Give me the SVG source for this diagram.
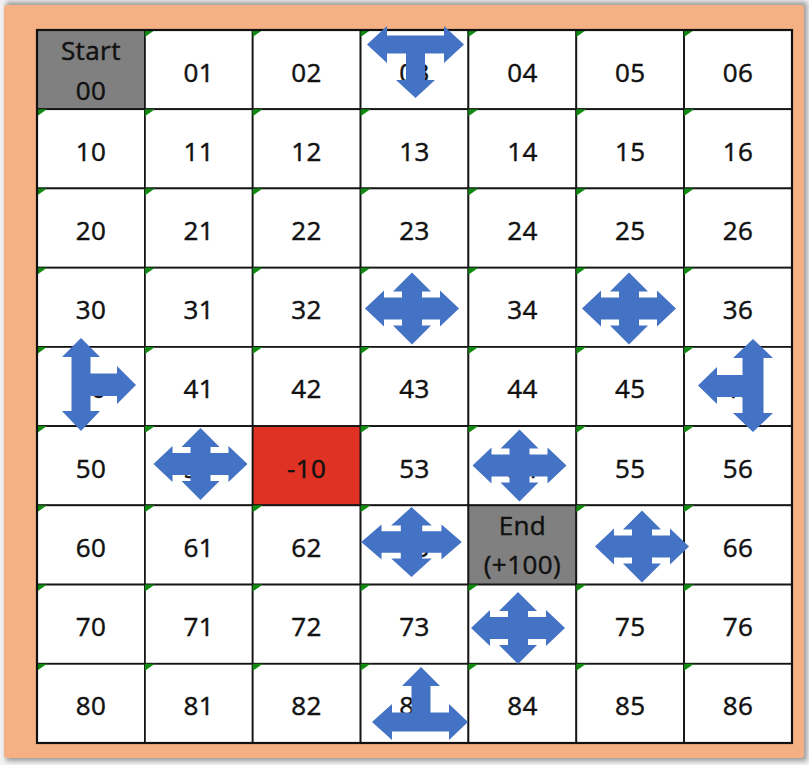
<svg xmlns="http://www.w3.org/2000/svg" width="809" height="765" viewBox="0 0 809 765">
<defs>
<style>
.cell{fill:#ffffff;stroke:#151515;stroke-width:1.8}
.gray{fill:#808080;stroke:#151515;stroke-width:1.8}
.red{fill:#e03224;stroke:#151515;stroke-width:1.8}
.tri{fill:#118a11}
.t{font-family:"Open Sans","Noto Sans","DejaVu Sans",sans-serif;font-size:26px;fill:#111111;stroke:#111111;stroke-width:0.45;text-anchor:middle;letter-spacing:0.4px}
.arrow{fill:#4472c4}
</style>
<filter id="sh" x="-5%" y="-5%" width="110%" height="110%"><feGaussianBlur stdDeviation="2.5"/></filter>
<path id="quad" d="M0,-36 L19,-17 L10,-17 L10,-11 L28,-11 L28,-18 L47,0 L28,18 L28,11 L10,11 L10,17 L19,17 L0,36 L-19,17 L-10,17 L-10,11 L-28,11 L-28,18 L-47,0 L-28,-18 L-28,-11 L-10,-11 L-10,-17 L-19,-17 Z"/>
</defs>
<rect x="0" y="0" width="809" height="765" fill="#f2f2f2"/>
<rect x="6" y="2" width="801" height="759" fill="#9a9a9a" filter="url(#sh)"/>
<rect x="4" y="5" width="800" height="753" rx="3" fill="#f5b183"/>
<rect x="37" y="30" width="755" height="713" fill="#ffffff"/>

<g id="row0">
<g id="c00"><rect class="gray" x="37" y="30" width="107.9" height="79.2"/><text class="t" x="90.9" y="60">Start</text><text class="t" x="90.9" y="100">00</text></g>
<g id="c01"><rect class="cell" x="144.9" y="30" width="107.8" height="79.2"/><path class="tri" d="M144.9,30h10l-10,7z"/><text class="t" x="198.8" y="81.5">01</text></g>
<g id="c02"><rect class="cell" x="252.7" y="30" width="107.9" height="79.2"/><path class="tri" d="M252.7,30h10l-10,7z"/><text class="t" x="306.6" y="81.5">02</text></g>
<g id="c03"><rect class="cell" x="360.6" y="30" width="107.8" height="79.2"/><path class="tri" d="M360.6,30h10l-10,7z"/><text class="t" x="414.5" y="81.5">03</text></g>
<g id="c04"><rect class="cell" x="468.4" y="30" width="107.9" height="79.2"/><path class="tri" d="M468.4,30h10l-10,7z"/><text class="t" x="522.4" y="81.5">04</text></g>
<g id="c05"><rect class="cell" x="576.3" y="30" width="107.8" height="79.2"/><path class="tri" d="M576.3,30h10l-10,7z"/><text class="t" x="630.2" y="81.5">05</text></g>
<g id="c06"><rect class="cell" x="684.1" y="30" width="107.9" height="79.2"/><path class="tri" d="M684.1,30h10l-10,7z"/><text class="t" x="738.1" y="81.5">06</text></g>
</g>

<g id="row1">
<g id="c10"><rect class="cell" x="37" y="109.2" width="107.9" height="79.2"/><path class="tri" d="M37,109.2h10l-10,7z"/><text class="t" x="90.9" y="160.7">10</text></g>
<g id="c11"><rect class="cell" x="144.9" y="109.2" width="107.8" height="79.2"/><path class="tri" d="M144.9,109.2h10l-10,7z"/><text class="t" x="198.8" y="160.7">11</text></g>
<g id="c12"><rect class="cell" x="252.7" y="109.2" width="107.9" height="79.2"/><path class="tri" d="M252.7,109.2h10l-10,7z"/><text class="t" x="306.6" y="160.7">12</text></g>
<g id="c13"><rect class="cell" x="360.6" y="109.2" width="107.8" height="79.2"/><path class="tri" d="M360.6,109.2h10l-10,7z"/><text class="t" x="414.5" y="160.7">13</text></g>
<g id="c14"><rect class="cell" x="468.4" y="109.2" width="107.9" height="79.2"/><path class="tri" d="M468.4,109.2h10l-10,7z"/><text class="t" x="522.4" y="160.7">14</text></g>
<g id="c15"><rect class="cell" x="576.3" y="109.2" width="107.8" height="79.2"/><path class="tri" d="M576.3,109.2h10l-10,7z"/><text class="t" x="630.2" y="160.7">15</text></g>
<g id="c16"><rect class="cell" x="684.1" y="109.2" width="107.9" height="79.2"/><path class="tri" d="M684.1,109.2h10l-10,7z"/><text class="t" x="738.1" y="160.7">16</text></g>
</g>

<g id="row2">
<g id="c20"><rect class="cell" x="37" y="188.4" width="107.9" height="79.3"/><path class="tri" d="M37,188.4h10l-10,7z"/><text class="t" x="90.9" y="239.9">20</text></g>
<g id="c21"><rect class="cell" x="144.9" y="188.4" width="107.8" height="79.3"/><path class="tri" d="M144.9,188.4h10l-10,7z"/><text class="t" x="198.8" y="239.9">21</text></g>
<g id="c22"><rect class="cell" x="252.7" y="188.4" width="107.9" height="79.3"/><path class="tri" d="M252.7,188.4h10l-10,7z"/><text class="t" x="306.6" y="239.9">22</text></g>
<g id="c23"><rect class="cell" x="360.6" y="188.4" width="107.8" height="79.3"/><path class="tri" d="M360.6,188.4h10l-10,7z"/><text class="t" x="414.5" y="239.9">23</text></g>
<g id="c24"><rect class="cell" x="468.4" y="188.4" width="107.9" height="79.3"/><path class="tri" d="M468.4,188.4h10l-10,7z"/><text class="t" x="522.4" y="239.9">24</text></g>
<g id="c25"><rect class="cell" x="576.3" y="188.4" width="107.8" height="79.3"/><path class="tri" d="M576.3,188.4h10l-10,7z"/><text class="t" x="630.2" y="239.9">25</text></g>
<g id="c26"><rect class="cell" x="684.1" y="188.4" width="107.9" height="79.3"/><path class="tri" d="M684.1,188.4h10l-10,7z"/><text class="t" x="738.1" y="239.9">26</text></g>
</g>

<g id="row3">
<g id="c30"><rect class="cell" x="37" y="267.7" width="107.9" height="79.2"/><path class="tri" d="M37,267.7h10l-10,7z"/><text class="t" x="90.9" y="319.2">30</text></g>
<g id="c31"><rect class="cell" x="144.9" y="267.7" width="107.8" height="79.2"/><path class="tri" d="M144.9,267.7h10l-10,7z"/><text class="t" x="198.8" y="319.2">31</text></g>
<g id="c32"><rect class="cell" x="252.7" y="267.7" width="107.9" height="79.2"/><path class="tri" d="M252.7,267.7h10l-10,7z"/><text class="t" x="306.6" y="319.2">32</text></g>
<g id="c33"><rect class="cell" x="360.6" y="267.7" width="107.8" height="79.2"/><path class="tri" d="M360.6,267.7h10l-10,7z"/><text class="t" x="414.5" y="319.2">33</text></g>
<g id="c34"><rect class="cell" x="468.4" y="267.7" width="107.9" height="79.2"/><path class="tri" d="M468.4,267.7h10l-10,7z"/><text class="t" x="522.4" y="319.2">34</text></g>
<g id="c35"><rect class="cell" x="576.3" y="267.7" width="107.8" height="79.2"/><path class="tri" d="M576.3,267.7h10l-10,7z"/><text class="t" x="630.2" y="319.2">35</text></g>
<g id="c36"><rect class="cell" x="684.1" y="267.7" width="107.9" height="79.2"/><path class="tri" d="M684.1,267.7h10l-10,7z"/><text class="t" x="738.1" y="319.2">36</text></g>
</g>

<g id="row4">
<g id="c40"><rect class="cell" x="37" y="346.9" width="107.9" height="79.2"/><path class="tri" d="M37,346.9h10l-10,7z"/><text class="t" x="90.9" y="398.4">40</text></g>
<g id="c41"><rect class="cell" x="144.9" y="346.9" width="107.8" height="79.2"/><path class="tri" d="M144.9,346.9h10l-10,7z"/><text class="t" x="198.8" y="398.4">41</text></g>
<g id="c42"><rect class="cell" x="252.7" y="346.9" width="107.9" height="79.2"/><path class="tri" d="M252.7,346.9h10l-10,7z"/><text class="t" x="306.6" y="398.4">42</text></g>
<g id="c43"><rect class="cell" x="360.6" y="346.9" width="107.8" height="79.2"/><path class="tri" d="M360.6,346.9h10l-10,7z"/><text class="t" x="414.5" y="398.4">43</text></g>
<g id="c44"><rect class="cell" x="468.4" y="346.9" width="107.9" height="79.2"/><path class="tri" d="M468.4,346.9h10l-10,7z"/><text class="t" x="522.4" y="398.4">44</text></g>
<g id="c45"><rect class="cell" x="576.3" y="346.9" width="107.8" height="79.2"/><path class="tri" d="M576.3,346.9h10l-10,7z"/><text class="t" x="630.2" y="398.4">45</text></g>
<g id="c46"><rect class="cell" x="684.1" y="346.9" width="107.9" height="79.2"/><path class="tri" d="M684.1,346.9h10l-10,7z"/><text class="t" x="738.1" y="398.4">46</text></g>
</g>

<g id="row5">
<g id="c50"><rect class="cell" x="37" y="426.1" width="107.9" height="79.2"/><path class="tri" d="M37,426.1h10l-10,7z"/><text class="t" x="90.9" y="477.6">50</text></g>
<g id="c51"><rect class="cell" x="144.9" y="426.1" width="107.8" height="79.2"/><path class="tri" d="M144.9,426.1h10l-10,7z"/><text class="t" x="198.8" y="477.6">51</text></g>
<g id="c52"><rect class="red" x="252.7" y="426.1" width="107.9" height="79.2"/><text class="t" x="306.6" y="477.6">-10</text></g>
<g id="c53"><rect class="cell" x="360.6" y="426.1" width="107.8" height="79.2"/><path class="tri" d="M360.6,426.1h10l-10,7z"/><text class="t" x="414.5" y="477.6">53</text></g>
<g id="c54"><rect class="cell" x="468.4" y="426.1" width="107.9" height="79.2"/><path class="tri" d="M468.4,426.1h10l-10,7z"/><text class="t" x="522.4" y="477.6">54</text></g>
<g id="c55"><rect class="cell" x="576.3" y="426.1" width="107.8" height="79.2"/><path class="tri" d="M576.3,426.1h10l-10,7z"/><text class="t" x="630.2" y="477.6">55</text></g>
<g id="c56"><rect class="cell" x="684.1" y="426.1" width="107.9" height="79.2"/><path class="tri" d="M684.1,426.1h10l-10,7z"/><text class="t" x="738.1" y="477.6">56</text></g>
</g>

<g id="row6">
<g id="c60"><rect class="cell" x="37" y="505.3" width="107.9" height="79.3"/><path class="tri" d="M37,505.3h10l-10,7z"/><text class="t" x="90.9" y="556.8">60</text></g>
<g id="c61"><rect class="cell" x="144.9" y="505.3" width="107.8" height="79.3"/><path class="tri" d="M144.9,505.3h10l-10,7z"/><text class="t" x="198.8" y="556.8">61</text></g>
<g id="c62"><rect class="cell" x="252.7" y="505.3" width="107.9" height="79.3"/><path class="tri" d="M252.7,505.3h10l-10,7z"/><text class="t" x="306.6" y="556.8">62</text></g>
<g id="c63"><rect class="cell" x="360.6" y="505.3" width="107.8" height="79.3"/><path class="tri" d="M360.6,505.3h10l-10,7z"/><text class="t" x="414.5" y="556.8">63</text></g>
<g id="c64"><rect class="gray" x="468.4" y="505.3" width="107.9" height="79.3"/><text class="t" x="522.4" y="535">End</text><text class="t" x="522.4" y="574">(+100)</text></g>
<g id="c65"><rect class="cell" x="576.3" y="505.3" width="107.8" height="79.3"/><path class="tri" d="M576.3,505.3h10l-10,7z"/><text class="t" x="630.2" y="556.8">65</text></g>
<g id="c66"><rect class="cell" x="684.1" y="505.3" width="107.9" height="79.3"/><path class="tri" d="M684.1,505.3h10l-10,7z"/><text class="t" x="738.1" y="556.8">66</text></g>
</g>

<g id="row7">
<g id="c70"><rect class="cell" x="37" y="584.6" width="107.9" height="79.2"/><path class="tri" d="M37,584.6h10l-10,7z"/><text class="t" x="90.9" y="636">70</text></g>
<g id="c71"><rect class="cell" x="144.9" y="584.6" width="107.8" height="79.2"/><path class="tri" d="M144.9,584.6h10l-10,7z"/><text class="t" x="198.8" y="636">71</text></g>
<g id="c72"><rect class="cell" x="252.7" y="584.6" width="107.9" height="79.2"/><path class="tri" d="M252.7,584.6h10l-10,7z"/><text class="t" x="306.6" y="636">72</text></g>
<g id="c73"><rect class="cell" x="360.6" y="584.6" width="107.8" height="79.2"/><path class="tri" d="M360.6,584.6h10l-10,7z"/><text class="t" x="414.5" y="636">73</text></g>
<g id="c74"><rect class="cell" x="468.4" y="584.6" width="107.9" height="79.2"/><path class="tri" d="M468.4,584.6h10l-10,7z"/><text class="t" x="522.4" y="636">74</text></g>
<g id="c75"><rect class="cell" x="576.3" y="584.6" width="107.8" height="79.2"/><path class="tri" d="M576.3,584.6h10l-10,7z"/><text class="t" x="630.2" y="636">75</text></g>
<g id="c76"><rect class="cell" x="684.1" y="584.6" width="107.9" height="79.2"/><path class="tri" d="M684.1,584.6h10l-10,7z"/><text class="t" x="738.1" y="636">76</text></g>
</g>

<g id="row8">
<g id="c80"><rect class="cell" x="37" y="663.8" width="107.9" height="79.2"/><path class="tri" d="M37,663.8h10l-10,7z"/><text class="t" x="90.9" y="715.3">80</text></g>
<g id="c81"><rect class="cell" x="144.9" y="663.8" width="107.8" height="79.2"/><path class="tri" d="M144.9,663.8h10l-10,7z"/><text class="t" x="198.8" y="715.3">81</text></g>
<g id="c82"><rect class="cell" x="252.7" y="663.8" width="107.9" height="79.2"/><path class="tri" d="M252.7,663.8h10l-10,7z"/><text class="t" x="306.6" y="715.3">82</text></g>
<g id="c83"><rect class="cell" x="360.6" y="663.8" width="107.8" height="79.2"/><path class="tri" d="M360.6,663.8h10l-10,7z"/><text class="t" x="414.5" y="715.3">83</text></g>
<g id="c84"><rect class="cell" x="468.4" y="663.8" width="107.9" height="79.2"/><path class="tri" d="M468.4,663.8h10l-10,7z"/><text class="t" x="522.4" y="715.3">84</text></g>
<g id="c85"><rect class="cell" x="576.3" y="663.8" width="107.8" height="79.2"/><path class="tri" d="M576.3,663.8h10l-10,7z"/><text class="t" x="630.2" y="715.3">85</text></g>
<g id="c86"><rect class="cell" x="684.1" y="663.8" width="107.9" height="79.2"/><path class="tri" d="M684.1,663.8h10l-10,7z"/><text class="t" x="738.1" y="715.3">86</text></g>
</g>

<rect x="37" y="30" width="755" height="713" fill="none" stroke="#111111" stroke-width="2.2"/>

<g id="arrows">
<path id="a03" class="arrow" d="M367,44.5 L387,26 L387,35.5 L444,35.5 L444,26 L464,44.5 L444,63 L444,53.5 L425,53.5 L425,80 L435,80 L415.5,98 L396,80 L406,80 L406,53.5 L387,53.5 L387,63 Z"/>
<path id="a40" class="arrow" d="M81,338 L100,357 L90.5,357 L90.5,373.5 L117,373.5 L117,366 L136,385 L117,404 L117,396 L90.5,396 L90.5,411 L100,411 L81,431 L62,411 L71.5,411 L71.5,357 L62,357 Z"/>
<path id="a46" class="arrow" d="M753,339 L773,358 L763.5,358 L763.5,413 L773,413 L753,432 L733,413 L742.5,413 L742.5,397 L717,397 L717,404 L698,385.5 L717,367 L717,375 L742.5,375 L742.5,358 L733,358 Z"/>
<path id="a83" class="arrow" d="M421,667 L440,686 L430.5,686 L430.5,712.5 L449,712.5 L449,704 L468,722 L449,740 L449,731.5 L392,731.5 L392,740 L372,722 L392,704 L392,712.5 L411.5,712.5 L411.5,686 L402,686 Z"/>
<use id="a33" class="arrow" href="#quad" transform="translate(412,308.5)"/>
<use id="a35" class="arrow" href="#quad" transform="translate(629,308.5)"/>
<use id="a51" class="arrow" href="#quad" transform="translate(200.5,464)"/>
<use id="a54" class="arrow" href="#quad" transform="translate(519.5,465.5)"/>
<use id="a63" class="arrow" href="#quad" transform="translate(411.5,542) scale(1.07,0.97)"/>
<use id="a65" class="arrow" href="#quad" transform="translate(642,546.5)"/>
<use id="a74" class="arrow" href="#quad" transform="translate(518,628)"/>
</g>
</svg>
